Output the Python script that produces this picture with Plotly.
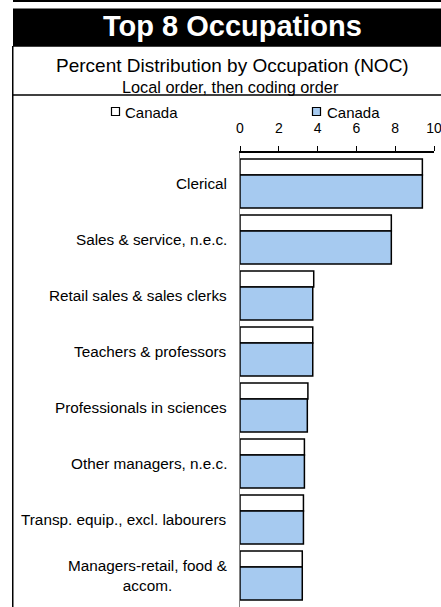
import plotly.graph_objects as go

# ---- data ----
categories = [
    "Clerical",
    "Sales & service, n.e.c.",
    "Retail sales & sales clerks",
    "Teachers & professors",
    "Professionals in sciences",
    "Other managers, n.e.c.",
    "Transp. equip., excl. labourers",
    "Managers-retail, food &<br>accom.",
]
series_names = ["Canada", "Canada"]
white_values = [9.40, 7.80, 3.80, 3.75, 3.50, 3.32, 3.27, 3.21]
blue_values = [9.40, 7.80, 3.75, 3.75, 3.47, 3.32, 3.27, 3.21]
x_ticks = [0, 2, 4, 6, 8, 10]

title = "Top 8 Occupations"
subtitle1 = "Percent Distribution by Occupation (NOC)"
subtitle2 = "Local order, then coding order"

# ---- layout geometry ----
W, H = 441, 607
ML, MR, MT, MB = 240, 7, 153, 0
PW, PH = W - ML - MR, H - MT - MB
FONT = "Arial, Liberation Sans, sans-serif"
BLUE = "#A6CAF0"


def px(x):
    return (x - ML) / PW


def py(y):
    return (H - MB - y) / PH


fig = go.Figure()
fig.add_trace(go.Bar(
    y=categories, x=white_values, orientation="h", name=series_names[0],
    marker=dict(color="white", line=dict(color="black", width=1.5)),
    offset=-0.393, width=0.286, showlegend=False,
))
fig.add_trace(go.Bar(
    y=categories, x=blue_values, orientation="h", name=series_names[1],
    marker=dict(color=BLUE, line=dict(color="black", width=1.5)),
    offset=-0.107, width=0.589, showlegend=False,
))

shapes = [
    dict(type="rect", xref="paper", yref="paper", x0=px(13), x1=px(441), y0=py(0), y1=py(2),
         fillcolor="black", line=dict(width=0)),
    dict(type="rect", xref="paper", yref="paper", x0=px(13), x1=px(441), y0=py(8.5), y1=py(46.7),
         fillcolor="black", line=dict(width=0)),
    dict(type="line", xref="paper", yref="paper", x0=px(12.75), x1=px(12.75), y0=py(46), y1=py(607),
         line=dict(color="black", width=1.5)),
    dict(type="line", xref="paper", yref="paper", x0=px(12), x1=px(441), y0=py(95), y1=py(95),
         line=dict(color="black", width=1.5)),
    dict(type="rect", xref="paper", yref="paper", x0=px(111.5), x1=px(119.5), y0=py(107.5), y1=py(115.5),
         fillcolor="white", line=dict(color="black", width=1.2)),
    dict(type="rect", xref="paper", yref="paper", x0=px(312.5), x1=px(320.5), y0=py(107.5), y1=py(115.5),
         fillcolor=BLUE, line=dict(color="black", width=1.2)),
]

annotations = [
    dict(text="<b>%s</b>" % title, xref="paper", yref="paper", x=px(232.5), y=py(26),
         xanchor="center", yanchor="middle", showarrow=False,
         font=dict(family=FONT, size=29, color="white")),
    dict(text=subtitle1, xref="paper", yref="paper", x=px(232), y=py(65),
         xanchor="center", yanchor="middle", showarrow=False,
         font=dict(family=FONT, size=19, color="black")),
    dict(text=subtitle2, xref="paper", yref="paper", x=px(230), y=py(87),
         xanchor="center", yanchor="middle", showarrow=False,
         font=dict(family=FONT, size=16.3, color="black")),
    dict(text=series_names[0], xref="paper", yref="paper", x=px(123), y=py(112),
         xanchor="left", yanchor="middle", showarrow=False,
         font=dict(family=FONT, size=15, color="black")),
    dict(text=series_names[1], xref="paper", yref="paper", x=px(325), y=py(112),
         xanchor="left", yanchor="middle", showarrow=False,
         font=dict(family=FONT, size=15, color="black")),
]
for i, c in enumerate(categories):
    annotations.append(dict(
        text=c, xref="paper", yref="y", x=px(228.5), y=i + 0.045,
        xanchor="right", yanchor="middle", align="center", showarrow=False,
        font=dict(family=FONT, size=15.3, color="black"),
    ))

fig.update_layout(
    width=W, height=H,
    margin=dict(l=ML, r=MR, t=MT, b=MB, pad=0),
    paper_bgcolor="white", plot_bgcolor="white",
    barmode="overlay",
    font=dict(family=FONT, size=14, color="black"),
    shapes=shapes, annotations=annotations,
    xaxis=dict(
        side="top", range=[0, 10], tickvals=x_ticks, ticktext=[str(t) for t in x_ticks],
        showline=True, linecolor="black", linewidth=1.5,
        ticks="outside", ticklen=5, tickwidth=1, tickcolor="black",
        showgrid=False, zeroline=False, automargin=False,
        tickfont=dict(family=FONT, size=14, color="black"), ticklabelstandoff=8,
        ticklabeloverflow="allow",
    ),
    yaxis=dict(
        type="category", categoryorder="array", categoryarray=categories,
        range=[7.607, -0.5], showticklabels=False, ticks="",
        showline=True, linecolor="#808080", linewidth=1, layer="below traces",
        showgrid=False, zeroline=False, automargin=False,
    ),
)

fig.write_html(
    "out.html",
    config={"displayModeBar": False},
    post_script="document.body.style.margin='0';document.body.style.overflow='hidden';",
)
